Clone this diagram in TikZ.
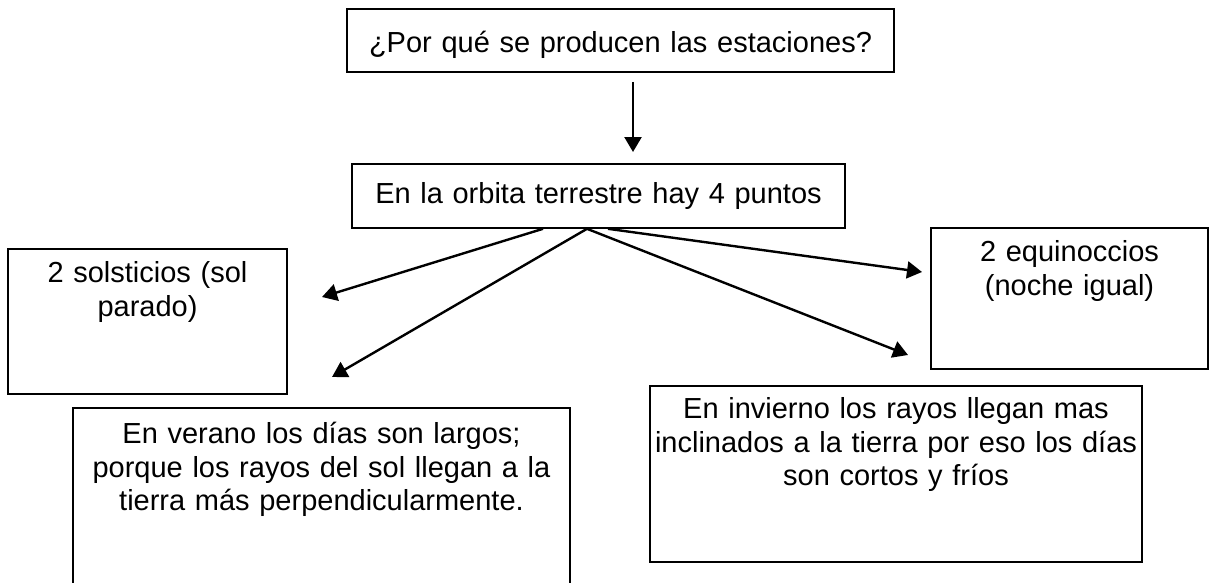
\documentclass[tikz,border=0pt]{standalone}
\usepackage{fontspec}
\setmainfont{Liberation Sans}
\usetikzlibrary{arrows.meta}

\begin{document}
\begin{tikzpicture}[%
					x=0.5pt, y=-0.5pt,
					box/.style={%
						draw,
						line width=0.9pt,
						align=center,
						anchor=north,
						inner xsep=0pt,
						inner ysep=0pt,
						font=\fontsize{14.5pt}{16.75pt}\selectfont
					},
					arr/.style={%
						line width=1.2pt,
						-{Triangle[length=7.5pt,width=8.5pt]}
					}
				]
				\useasboundingbox (0, 0) rectangle (1209, 583);

				\node[box, text width=273.5pt, text height=22pt, text depth=9.5pt] (pregunta) at (620.5, 8) {%
					¿Por qué se producen las estaciones?
				};
				\node[box, text width=246.5pt, text height=20pt, text depth=12pt] (orbita) at (598.5, 163) {%
					En la orbita terrestre hay 4 puntos
				};
				\node[box, text width=139.5pt, text height=17pt, text depth=55.5pt] (solsticios) at (147.5, 248) {%
					2 solsticios (sol\\
					parado)
				};
				\node[box, text width=138.5pt, text height=17pt, text depth=53.5pt] (equinoccios) at (1069.5, 227) {%
					2 equinoccios\\
					(noche igual)
				};
				\node[box, text width=248.5pt, text height=18pt, text depth=73.5pt] (verano) at (321.5, 407) {%
					En verano los días son largos;\\
					porque los rayos del sol llegan a la\\
					tierra más perpendicularmente.
				};
				\node[box, text width=246pt, text height=16.5pt, text depth=71.5pt] (invierno) at (896, 385) {%
					En invierno los rayos llegan mas\\
					inclinados a la tierra por eso los días\\
					son cortos y fríos
				};

				% puntas de las flechas
				\coordinate (pSol) at (322, 297);
				\coordinate (pVer) at (332, 377);
				\coordinate (pInv) at (908, 355);
				\coordinate (pEq) at (922, 272);

				\draw[arr, shorten <=4.5pt, shorten >=5.5pt] ([xshift=6.25pt]pregunta.south) -- ([xshift=17.25pt]orbita.north);
				\draw[arr] ([xshift=-27.75pt]orbita.south) -- (pSol);
				\draw[arr] ([xshift=-5.75pt]orbita.south) -- (pVer);
				\draw[arr] ([xshift=-5.75pt]orbita.south) -- (pInv);
				\draw[arr] ([xshift=4.75pt]orbita.south) -- (pEq);
			\end{tikzpicture}
\end{document}
